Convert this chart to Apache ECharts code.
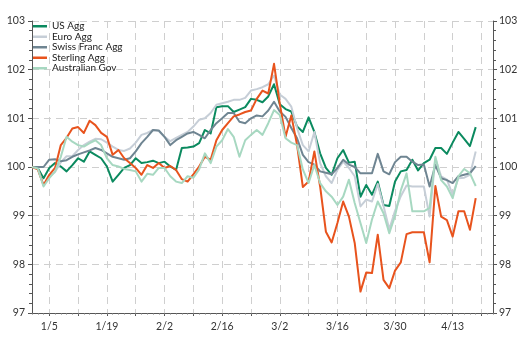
<!DOCTYPE html>
<html>
<head>
<meta charset="utf-8">
<script src="https://cdn.jsdelivr.net/npm/echarts@6/dist/echarts.min.js"></script>
<style>
  html, body { margin: 0; padding: 0; background: #fff; }
  #chart { width: 527px; height: 340px; }
</style>
</head>
<body>
<div id="chart"></div>
<script>
// Bond index total returns, rebased to 100 at the start of the year (business days)
const seriesNames = ['US Agg', 'Euro Agg', 'Swiss Franc Agg', 'Sterling Agg', 'Australian Gov'];
const seriesColors = ['#0b8a5f', '#c6ced7', '#6f8592', '#e8531d', '#a7d8c1'];

const usAgg = [
  100.00, 99.98, 99.77, 99.98, 100.08, 100.01, 99.91, 100.04, 100.18, 100.11,
  100.32, 100.25, 100.18, 100.01, 99.70, 99.84, 99.98, 100.04, 100.18, 100.08,
  100.10, 100.13, 100.08, 100.11, 100.01, 99.94, 100.39, 100.40, 100.42, 100.49,
  100.76, 100.69, 101.23, 101.25, 101.25, 101.13, 101.18, 101.23, 101.40, 101.38,
  101.33, 101.45, 101.70, 101.29, 101.19, 101.14, 100.83, 100.72, 101.02, 100.72,
  100.28, 99.98, 99.84, 100.18, 100.35, 100.09, 100.11, 99.39, 99.63, 99.43,
  99.70, 99.22, 99.20, 99.70, 99.91, 99.94, 100.15, 99.93, 100.08, 100.15,
  100.39, 100.39, 100.27, 100.50, 100.72, 100.58, 100.43, 100.82
];
const euroAgg = [
  100.00, 99.97, 99.63, 99.80, 99.90, 100.10, 100.22, 100.22, 100.35, 100.45,
  100.52, 100.58, 100.57, 100.50, 100.42, 100.35, 100.33, 100.38, 100.50, 100.66,
  100.70, 100.76, 100.74, 100.62, 100.53, 100.60, 100.66, 100.72, 100.83, 100.97,
  101.00, 101.11, 101.28, 101.31, 101.34, 101.38, 101.38, 101.42, 101.57, 101.60,
  101.64, 101.70, 101.88, 101.49, 101.40, 101.24, 100.80, 100.45, 100.32, 100.72,
  100.08, 99.81, 99.67, 99.94, 100.11, 99.98, 99.81, 99.19, 99.33, 99.29,
  99.65, 99.20, 98.72, 99.10, 99.40, 99.62, 99.60, 99.60, 99.60, 98.98,
  100.18, 99.81, 99.74, 99.43, 99.77, 99.78, 99.84, 100.32
];
const swissAgg = [
  100.00, 100.00, 100.00, 100.15, 100.16, 100.12, 100.14, 100.21, 100.26, 100.30,
  100.34, 100.39, 100.35, 100.28, 100.21, 100.18, 100.15, 100.18, 100.32, 100.49,
  100.62, 100.76, 100.75, 100.62, 100.45, 100.55, 100.62, 100.69, 100.72, 100.66,
  100.59, 100.76, 100.90, 101.00, 101.11, 101.11, 100.93, 100.90, 101.00, 101.06,
  101.04, 101.16, 101.34, 101.14, 101.03, 100.80, 100.59, 100.25, 100.10, 100.05,
  99.91, 99.88, 99.85, 99.98, 100.15, 100.05, 100.00, 99.87, 99.87, 99.87,
  100.27, 99.91, 99.85, 100.10, 100.21, 100.21, 100.11, 100.04, 100.05, 99.60,
  100.04, 99.77, 99.73, 99.67, 99.81, 99.84, 99.87, 100.02
];
const sterlingAgg = [
  100.00, 99.95, 99.63, 99.84, 99.98, 100.45, 100.60, 100.79, 100.82, 100.70,
  100.95, 100.86, 100.70, 100.62, 100.25, 100.35, 100.18, 100.08, 99.98, 99.84,
  100.04, 99.98, 100.08, 99.98, 100.02, 99.94, 99.75, 99.70, 99.85, 100.01,
  100.21, 100.15, 100.55, 100.76, 100.90, 101.04, 101.08, 101.13, 101.16, 101.40,
  101.57, 101.51, 102.12, 101.30, 100.62, 101.06, 100.45, 99.59, 99.70, 100.32,
  99.60, 98.67, 98.45, 98.85, 99.29, 98.98, 98.44, 97.44, 97.83, 97.82,
  98.61, 97.68, 97.51, 97.87, 98.04, 98.62, 98.66, 98.66, 98.66, 98.04,
  99.61, 98.98, 98.91, 98.57, 99.09, 99.09, 98.71, 99.36
];
const australianGov = [
  100.00, 99.97, 99.60, 99.77, 99.91, 100.21, 100.62, 100.52, 100.45, 100.42,
  100.49, 100.55, 100.45, 100.18, 100.04, 100.01, 99.96, 99.94, 99.91, 99.70,
  99.86, 99.84, 99.98, 99.98, 99.81, 99.70, 99.67, 99.81, 99.78, 99.95,
  100.28, 100.08, 100.42, 100.55, 100.78, 100.62, 100.21, 100.55, 100.66, 100.76,
  100.66, 100.90, 101.17, 101.07, 100.59, 100.50, 100.45, 99.95, 99.67, 100.04,
  99.67, 99.50, 99.39, 99.22, 99.39, 99.74, 99.26, 98.85, 98.44, 98.92,
  99.29, 99.05, 98.64, 99.00, 99.52, 99.87, 99.09, 99.09, 99.09, 99.16,
  100.21, 99.73, 99.60, 99.36, 99.81, 99.96, 99.87, 99.61
];
const seriesValues = [usAgg, euroAgg, swissAgg, sterlingAgg, australianGov];

// Business-day categories from 31 Dec 2014 through 22 Apr 2015
const dayCount = 81;
const categories = [];
(function () {
  const d = new Date(2014, 11, 31);
  while (categories.length < dayCount) {
    const wd = d.getDay();
    if (wd !== 0 && wd !== 6) categories.push((d.getMonth() + 1) + '/' + d.getDate());
    d.setDate(d.getDate() + 1);
  }
})();
const firstMonday = 3;           // index of 1/5
const isWeekTick = (i) => i >= firstMonday && (i - firstMonday) % 5 === 0;
const isLabel = (i) => i >= firstMonday && (i - firstMonday) % 10 === 0;

const font = 'Lato, "DejaVu Sans", sans-serif';
const axisDark = '#555';
const gridGray = '#cfcfcf';

const chart = echarts.init(document.getElementById('chart'), null, { renderer: 'canvas' });

const yAxisBase = {
  type: 'value', min: 97, max: 103, interval: 1,
  axisLine: { show: true, lineStyle: { color: axisDark, width: 1 } },
  axisTick: { show: true, inside: false, length: 4, lineStyle: { color: axisDark } },
  minorTick: { show: true, splitNumber: 5, length: 3, lineStyle: { color: axisDark } },
  axisLabel: { color: '#333', fontFamily: font, fontSize: 10.5 },
  minorSplitLine: { show: false }
};

chart.setOption({
  animation: false,
  backgroundColor: '#fff',
  color: seriesColors,
  grid: { left: 32, right: 34, top: 21, bottom: 27, containLabel: false },
  legend: {
    orient: 'vertical', left: 33, top: 21, padding: 0,
    itemWidth: 14, itemHeight: 2.5, itemGap: 0, icon: 'rect',
    textStyle: { fontFamily: font, fontSize: 10, color: '#222', lineHeight: 10.5 },
    data: seriesNames
  },
  xAxis: [{
    type: 'category', data: categories, boundaryGap: false,
    axisLine: { show: true, lineStyle: { color: axisDark, width: 1 } },
    axisTick: { show: true, length: 3, interval: (i) => isWeekTick(i), lineStyle: { color: axisDark } },
    axisLabel: { interval: (i) => isLabel(i), color: '#333', fontFamily: font, fontSize: 10.5, margin: 8 },
    splitLine: { show: true, interval: (i) => isWeekTick(i) && i > 0, lineStyle: { color: gridGray, type: [7, 5], width: 1 } }
  }, {
    // daily minor ticks along the bottom axis
    type: 'category', data: categories, boundaryGap: false, position: 'bottom',
    axisLine: { show: false },
    axisTick: { show: true, length: 1.5, interval: 0, lineStyle: { color: '#777' } },
    axisLabel: { show: false },
    splitLine: { show: false }
  }],
  yAxis: [
    Object.assign({}, yAxisBase, {
      position: 'left',
      axisLabel: Object.assign({}, yAxisBase.axisLabel, { margin: 7 }),
      splitLine: { show: true, lineStyle: { color: gridGray, type: [7, 5], width: 1 } }
    }),
    Object.assign({}, yAxisBase, {
      position: 'right',
      axisLabel: Object.assign({}, yAxisBase.axisLabel, { margin: 6 }),
      splitLine: { show: false }
    })
  ],
  series: seriesNames.map((name, k) => ({
    name: name, type: 'line', data: seriesValues[k],
    xAxisIndex: 0, yAxisIndex: 0,
    showSymbol: false, symbol: 'none',
    lineStyle: { width: 2, color: seriesColors[k], join: 'round' },
    itemStyle: { color: seriesColors[k] }
  }))
});
</script>
</body>
</html>
